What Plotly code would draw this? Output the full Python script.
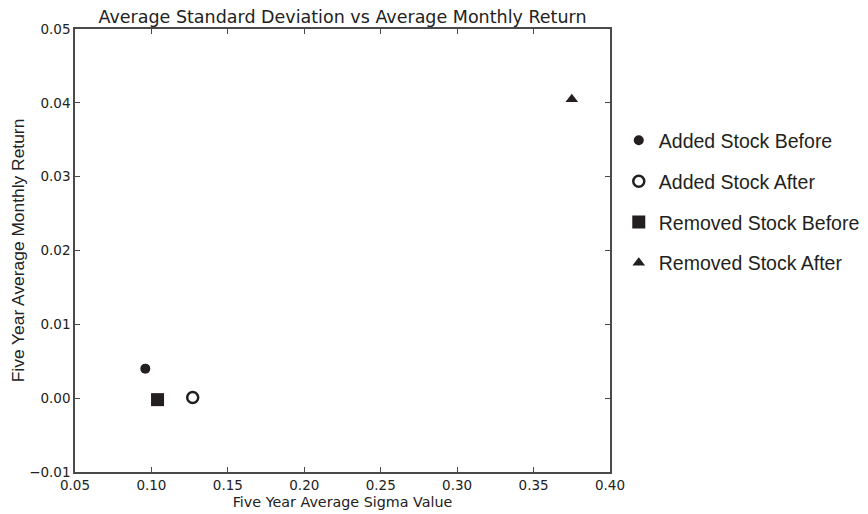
import plotly.graph_objects as go

series_names = ["Added Stock Before", "Added Stock After", "Removed Stock Before", "Removed Stock After"]
sigma_values = [0.096, 0.127, 0.104, 0.375]
return_values = [0.0040, 0.0001, -0.0002, 0.0405]
symbols = ["circle", "circle-open", "square", "triangle-up"]
sizes = [10, 11, 13, 11]

x_ticks = [0.05, 0.10, 0.15, 0.20, 0.25, 0.30, 0.35, 0.40]
y_ticks = [-0.01, 0.00, 0.01, 0.02, 0.03, 0.04, 0.05]
y_tick_text = ["\u22120.01", "0.00", "0.01", "0.02", "0.03", "0.04", "0.05"]

fig = go.Figure()
for i, name in enumerate(series_names):
    sym = symbols[i]
    fig.add_trace(go.Scatter(
        x=[sigma_values[i]], y=[return_values[i]], mode="markers", name=name,
        legendgroup=f"g{i}",
        marker=dict(symbol=sym, size=sizes[i], color="#231f20",
                    line=dict(color="#231f20", width=2.5 if sym == "circle-open" else 0)),
    ))

axis_common = dict(showline=True, linecolor="#4a4a4a", linewidth=1.5, mirror="ticks",
                   ticks="inside", ticklen=5, tickcolor="#4a4a4a", tickwidth=1,
                   showgrid=False, zeroline=False,
                   tickfont=dict(family="DejaVu Sans", size=13.5, color="#222222"))

fig.update_layout(
    width=868, height=514,
    margin=dict(l=67, r=266, t=21, b=50, autoexpand=False),
    paper_bgcolor="white", plot_bgcolor="white",
    title=dict(text="Average Standard Deviation vs Average Monthly Return",
               x=0.5, xref="paper", xanchor="center", y=0.994, yref="container", yanchor="top",
               font=dict(family="DejaVu Sans", size=17.5, color="#222222")),
    xaxis=dict(range=[0.05, 0.40], tickvals=x_ticks, tickformat=".2f", automargin=False,
               title=dict(text="Five Year Average Sigma Value", standoff=5,
                          font=dict(family="DejaVu Sans", size=14.3, color="#222222")),
               **axis_common),
    yaxis=dict(range=[-0.01, 0.05], tickvals=y_ticks, ticktext=y_tick_text, automargin=True,
               title=dict(text="Five Year Average Monthly Return", standoff=8,
                          font=dict(family="Liberation Sans, Arial", size=17.4, color="#222222")),
               **axis_common),
    legend=dict(x=1.0164, xanchor="left", y=0.792, yanchor="top",
                font=dict(family="Liberation Sans Narrow, Arial Narrow, Liberation Sans, Arial", size=19.5, color="#231f20"),
                tracegroupgap=12.5, bgcolor="rgba(0,0,0,0)", itemsizing="trace"),
    showlegend=True,
)

fig.write_html("out.html")
